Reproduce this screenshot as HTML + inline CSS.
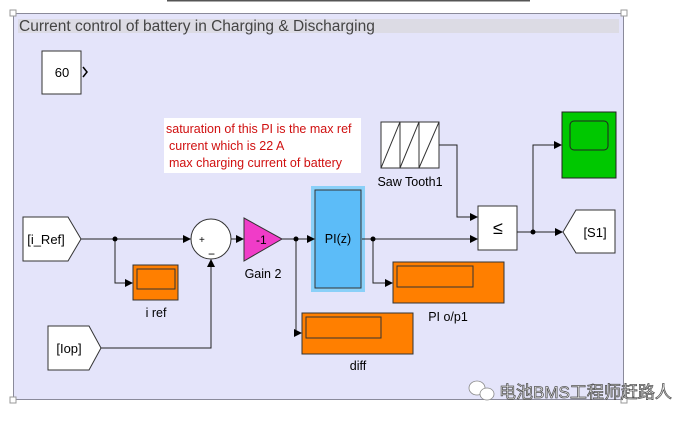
<!DOCTYPE html>
<html><head><meta charset="utf-8"><style>
html,body{margin:0;padding:0;background:#fff;width:692px;height:423px;overflow:hidden}
svg{display:block}
text{font-family:"Liberation Sans","Noto Sans CJK SC",sans-serif}
</style></head><body>
<svg width="692" height="423" viewBox="0 0 692 423" xmlns="http://www.w3.org/2000/svg">
<defs>
<marker id="a" markerWidth="8" markerHeight="8" refX="7" refY="4" orient="auto" markerUnits="userSpaceOnUse"><path d="M0,0 L8,4 L0,8 Z" fill="#000"/></marker>
</defs>
<line x1="167" y1="0.5" x2="530" y2="0.5" stroke="#555" stroke-width="2"/>
<rect x="13.5" y="13.5" width="610" height="386" fill="#e4e4fa" stroke="#8a8a9a"/>
<rect x="10" y="10" width="6" height="6" fill="#fff" stroke="#999"/>
<rect x="621" y="10" width="6" height="6" fill="#fff" stroke="#999"/>
<rect x="10" y="397" width="6" height="6" fill="#fff" stroke="#999"/>
<rect x="621" y="397" width="6" height="6" fill="#fff" stroke="#999"/>
<rect x="18" y="19" width="601" height="14" fill="#dcdbe4"/>
<text x="19" y="31" font-size="15.5" fill="#444">Current control of battery in Charging &amp; Discharging</text>
<!-- 60 -->
<rect x="42" y="51" width="39" height="43" fill="#fff" stroke="#333"/>
<text x="62" y="77" font-size="13" text-anchor="middle">60</text>
<path d="M83,67 L87,72 L83,77" fill="none" stroke="#000" stroke-width="1.5"/>
<!-- note -->
<rect x="164" y="118" width="197" height="55" fill="#fff"/>
<text font-size="12.5" fill="#d01010"><tspan x="166" y="133">saturation of this PI is the max ref</tspan><tspan x="169" y="150">current which is 22 A</tspan><tspan x="169" y="167">max charging current of battery</tspan></text>
<!-- saw -->
<rect x="381" y="122" width="58" height="46" fill="#fff" stroke="#333"/>
<path d="M381,168 L400,122 V168 L419,122 V168 L439,122" fill="none" stroke="#333"/>
<text x="410" y="186" font-size="12.5" text-anchor="middle">Saw Tooth1</text>
<!-- scope green -->
<rect x="562" y="112" width="54" height="66" fill="#00c800" stroke="#222"/>
<rect x="570" y="121" width="38" height="29" rx="4" fill="none" stroke="#222"/>
<!-- relational -->
<rect x="478" y="206" width="39" height="44" fill="#fff" stroke="#333"/>
<text x="498" y="234" font-size="18" text-anchor="middle">≤</text>
<!-- S1 -->
<path d="M563,232 L576,210 H615 V253 H576 Z" fill="#fff" stroke="#333"/>
<text x="595" y="237" font-size="13" text-anchor="middle">[S1]</text>
<!-- i_Ref -->
<path d="M23,217 H68 L81,239 L68,261 H23 Z" fill="#fff" stroke="#333"/>
<text x="46" y="244" font-size="13" text-anchor="middle">[i_Ref]</text>
<!-- Iop -->
<path d="M48,326 H89 L101,348 L89,370 H48 Z" fill="#fff" stroke="#333"/>
<text x="69" y="353" font-size="13" text-anchor="middle">[Iop]</text>
<!-- sum -->
<circle cx="211" cy="239" r="20" fill="#fff" stroke="#333"/>
<text x="199" y="243" font-size="10">+</text>
<text x="208" y="258" font-size="12">−</text>
<!-- gain -->
<path d="M244,218 L282,239 L244,261 Z" fill="#f03cc8" stroke="#333"/>
<text x="256" y="244" font-size="12">-1</text>
<text x="263" y="278" font-size="12.5" text-anchor="middle">Gain 2</text>
<!-- PI -->
<rect x="311" y="186" width="54" height="106" fill="#8ad0f8"/>
<rect x="315" y="190" width="46" height="98" fill="#5cbcf8" stroke="#333"/>
<text x="338" y="243" font-size="12.5" text-anchor="middle">PI(z)</text>
<!-- scopes orange -->
<rect x="133" y="265" width="45" height="35" fill="#ff7f00" stroke="#333"/>
<rect x="137" y="269" width="38" height="20" fill="none" stroke="#333"/>
<text x="156" y="317" font-size="12.5" text-anchor="middle">i ref</text>
<rect x="393" y="262" width="111" height="41" fill="#ff7f00" stroke="#333"/>
<rect x="397" y="266" width="76" height="21" fill="none" stroke="#333"/>
<text x="448" y="321" font-size="12.5" text-anchor="middle">PI o/p1</text>
<rect x="302" y="313" width="111" height="41" fill="#ff7f00" stroke="#333"/>
<rect x="306" y="317" width="75" height="21" fill="none" stroke="#333"/>
<text x="358" y="370" font-size="12.5" text-anchor="middle">diff</text>
<!-- lines -->
<g stroke="#222" stroke-width="1" fill="none">
<path d="M81,239 H190" marker-end="url(#a)"/>
<path d="M115,239 V283 H132" marker-end="url(#a)"/>
<path d="M101,348 H211 V260" marker-end="url(#a)"/>
<path d="M231,239 H243" marker-end="url(#a)"/>
<path d="M282,239 H314" marker-end="url(#a)"/>
<path d="M296,239 V333 H301" marker-end="url(#a)"/>
<path d="M362,239 H477" marker-end="url(#a)"/>
<path d="M373,239 V283 H392" marker-end="url(#a)"/>
<path d="M439,145 H457 V217 H477" marker-end="url(#a)"/>
<path d="M517,232 H562" marker-end="url(#a)"/>
<path d="M533,232 V145 H561" marker-end="url(#a)"/>
</g>
<g fill="#000"><circle cx="115" cy="239" r="2.5"/><circle cx="296" cy="239" r="2.5"/><circle cx="373" cy="239" r="2.5"/><circle cx="533" cy="232" r="2.5"/></g>
<!-- watermark -->
<g fill="#fff" stroke="#888" stroke-width="0.8"><ellipse cx="477" cy="388" rx="8" ry="7"/><ellipse cx="487" cy="394" rx="7" ry="6"/></g>
<text x="499" y="398" font-size="17" fill="#fff" stroke="#555" stroke-width="0.8">电池BMS工程师赶路人</text>
</svg>
</body></html>
